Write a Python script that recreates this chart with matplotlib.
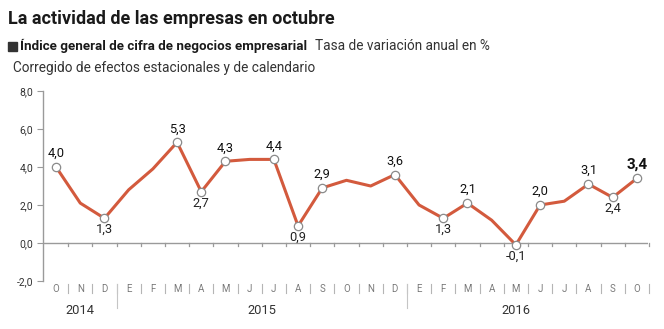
import matplotlib
matplotlib.use("Agg")
import matplotlib.pyplot as plt
from matplotlib import font_manager as fm

names = {f.name for f in fm.fontManager.ttflist}
COND = 'Liberation Sans Narrow' if 'Liberation Sans Narrow' in names else 'Roboto'
FAM = [COND, 'DejaVu Sans']

months = ['O', 'N', 'D', 'E', 'F', 'M', 'A', 'M', 'J', 'J', 'A', 'S',
          'O', 'N', 'D', 'E', 'F', 'M', 'A', 'M', 'J', 'J', 'A', 'S', 'O']
values = [4.0, 2.1, 1.3, 2.8, 3.9, 5.3, 2.7, 4.3, 4.4, 4.4, 0.9, 2.9,
          3.3, 3.0, 3.6, 2.0, 1.3, 2.1, 1.2, -0.1, 2.0, 2.2, 3.1, 2.4, 3.4]
labeled = [0, 2, 5, 6, 7, 9, 10, 11, 14, 16, 17, 19, 20, 22, 23, 24]
label_below = [2, 6, 10, 16, 19, 23]
years = ['2014', '2015', '2016']
year_pos = [1, 8.5, 19]
year_breaks = [2.5, 14.5]
yticks = [-2, 0, 2, 4, 6, 8]

W, H = 664, 329
fig = plt.figure(figsize=(W / 100, H / 100), dpi=100)
L, R, T, B = 43, 648, 91, 281
ax = fig.add_axes([L / W, 1 - B / H, (R - L) / W, (B - T) / H])
ax.set_xlim(-0.54, 24.46)
ax.set_ylim(-2, 8)
for s in ['top', 'right', 'bottom']:
    ax.spines[s].set_visible(False)
ax.spines['left'].set_color('#9a9a9a')
ax.spines['left'].set_linewidth(1)
ax.set_yticks(yticks)
ax.set_yticklabels([f"{v:.1f}".replace('.', ',') for v in yticks],
                   fontsize=7.5, color='#333333', family=FAM)
ax.tick_params(axis='y', length=4, color='#9a9a9a', pad=3)
ax.set_xticks([])

# zero line
ax.axhline(0, color='#9a9a9a', lw=1, zorder=1)
for i in range(len(months)):
    ax.plot([i + 0.5, i + 0.5], [0.02, -0.17], color='#9a9a9a', lw=0.9, zorder=1, clip_on=False)

x = list(range(len(values)))
ax.plot(x, values, color='#d35a3d', lw=2.2, zorder=3)
ax.scatter([x[i] for i in labeled], [values[i] for i in labeled], s=36,
           facecolor='white', edgecolor='#8a8a8a', linewidth=0.9, zorder=4)

for i in labeled:
    txt = f"{values[i]:.1f}".replace('.', ',')
    last = i == len(values) - 1
    if i in label_below:
        ax.annotate(txt, (i, values[i]), xytext=(0, -3.5), textcoords='offset points',
                    ha='center', va='top', fontsize=9.3, color='#222222', family=FAM)
    else:
        ax.annotate(txt, (i, values[i]), xytext=(0, 5), textcoords='offset points',
                    ha='center', va='bottom', fontsize=11 if last else 9.3,
                    fontweight='bold' if last else 'normal', color='#111111', family=FAM)

# month labels and separators
trans = ax.get_xaxis_transform()
def ypix(p):
    return (B - p) / (B - T)
for i, m in enumerate(months):
    ax.text(i, ypix(288.5), m, transform=trans, ha='center', va='center',
            fontsize=7, color='#7a7a7a', family=FAM)
    ax.plot([i + 0.5, i + 0.5], [ypix(284), ypix(293)], transform=trans,
            color='#b5b5b5', lw=0.8, clip_on=False)
for b in year_breaks:
    ax.plot([b, b], [ypix(284), ypix(308)], transform=trans,
            color='#c5c5c5', lw=0.8, clip_on=False)
for yl, p in zip(years, year_pos):
    ax.text(p, ypix(310), yl, transform=trans, ha='center', va='center',
            fontsize=9.3, color='#333333', family=FAM)

# titles
fig.text(8 / W, 1 - 19 / H, 'La actividad de las empresas en octubre', fontsize=13,
         fontweight='bold', color='#1a1a1a', family=FAM, va='center', ha='left')
fig.patches.append(plt.Rectangle((8 / W, 1 - 51 / H), 9 / W, 9 / H,
                                 transform=fig.transFigure, color='#333333'))
t1 = fig.text(20 / W, 1 - 46 / H, 'Índice general de cifra de negocios empresarial',
              fontsize=9.6, fontweight='bold', color='#1a1a1a', family=FAM,
              va='center', ha='left')
fig.canvas.draw()
bb = t1.get_window_extent()
fig.text(bb.x1 / W + 8 / W, 1 - 46 / H, 'Tasa de variación anual en %', fontsize=9.8,
         color='#333333', family=FAM, va='center', ha='left')
fig.text(13 / W, 1 - 68 / H, 'Corregido de efectos estacionales y de calendario',
         fontsize=9.8, color='#333333', family=FAM, va='center', ha='left')

fig.savefig('out.png', dpi=100)
